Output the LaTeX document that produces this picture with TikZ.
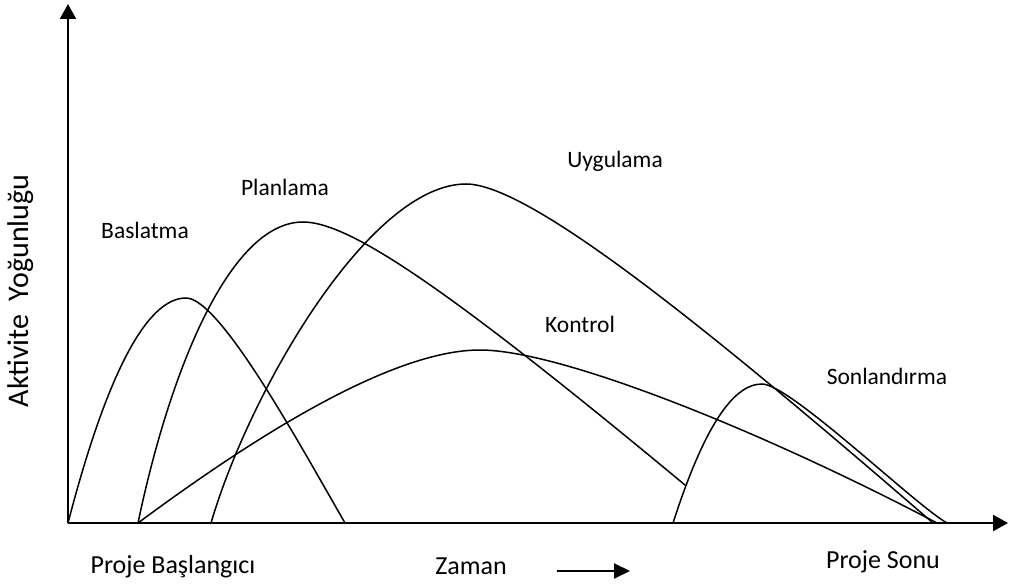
\documentclass[tikz,border=0pt]{standalone}
\usepackage{fontspec}
\setmainfont{Carlito}
\usetikzlibrary{arrows.meta}
\begin{document}
\begin{tikzpicture}[x=1pt,y=-1pt,
  axis/.style={line width=2.4pt,-{Triangle[length=15pt,width=16pt]}},
  curve/.style={line width=1.5pt,line cap=round},
  phase/.style={font=\fontsize{23.5}{26}\selectfont,inner sep=0pt},
  axislbl/.style={font=\fontsize{26}{30}\selectfont,inner sep=0pt}]
\useasboundingbox (0,0) rectangle (1009,585);

% axes
\coordinate (O) at (68,523);
\coordinate (ytop) at (68,4);
\coordinate (xend) at (1008,523);
\draw[axis] (O) -- (ytop);
\draw[axis] (O) -- (xend);

% phase curves
% Baslatma
\draw[curve] (68,523) .. controls (107,373) and (147,298) .. (186,298)
                      .. controls (220,298) and (300,445) .. (345,523);
% Planlama
\draw[curve] (138,523) .. controls (170,370) and (230,222) .. (303,222)
                       .. controls (350,222) and (450,290) .. (685,485);
% Uygulama
\draw[curve] (211,523) .. controls (250,390) and (370,184) .. (466,184)
                       .. controls (530,184) and (710,330) .. (933,523);
% Kontrol
\draw[curve] (138,523) .. controls (250,440) and (390,350) .. (480,350)
                       .. controls (560,350) and (760,430) .. (937,523);
% Sonlandirma
\draw[curve] (673,523) .. controls (703,430) and (732,384) .. (762,384)
                       .. controls (790,384) and (915,505) .. (947,523);

% phase labels
\node[phase] (baslatma) at (145,230) {Baslatma};
\node[phase] (planlama) at (285,187) {Planlama};
\node[phase] (uygulama) at (615,161) {Uygulama};
\node[phase] (kontrol) at (580,324) {Kontrol};
\node[phase] (sonlandirma) at (887,376) {Sonlandırma};

% axis labels
\node[axislbl] (baslangic) at (173,567) {Proje Başlangıcı};
\node[axislbl] (zaman) at (471,566) {Zaman};
\node[axislbl] (sonu) at (883,562) {Proje Sonu};
\node[font=\fontsize{30}{34}\selectfont,inner sep=0pt,rotate=90] (yogunluk) at (21,291) {Aktivite\ \ Yoğunluğu};

% time arrow
\coordinate (ta) at (557,571);
\coordinate (tb) at (630,571);
\draw[line width=2pt,-{Triangle[length=16pt,width=15pt]}] (ta) -- (tb);
\end{tikzpicture}
\end{document}
